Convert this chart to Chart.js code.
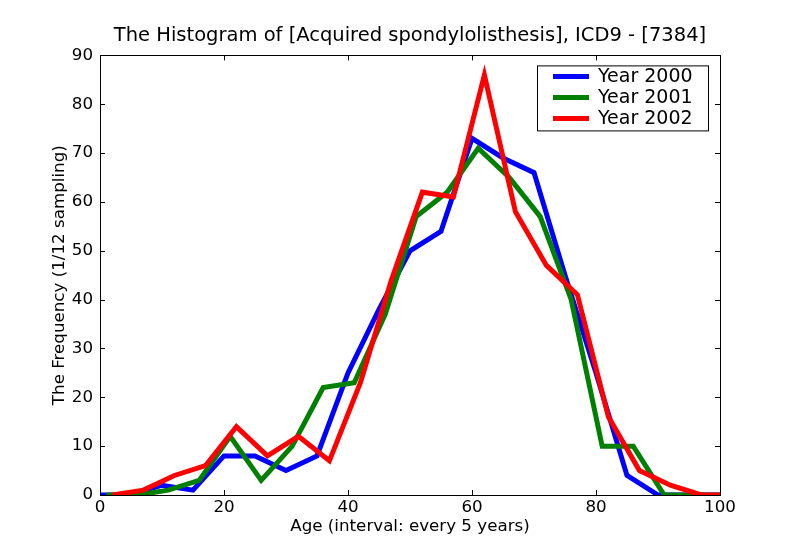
<!DOCTYPE html>
<html>
<head>
<meta charset="utf-8">
<script src="https://cdn.jsdelivr.net/npm/chart.js@4/dist/chart.umd.min.js"></script>
<style>
  body { margin: 0; background: #fff; }
  #wrap { width: 800px; height: 550px; }
</style>
</head>
<body>
<div id="wrap"><canvas id="histChart" width="800" height="550"></canvas></div>
<script>
// data
const ages2000 = [0, 5, 10, 15, 20, 25, 30, 35, 40, 45, 50, 55, 60, 65, 70, 75, 80, 85, 90, 95, 100];
const year2000 = [0, 0, 2, 1, 8, 8, 5, 8, 25, 38, 50, 54, 73, 69, 66, 45, 25, 4, 0, 0, 0];

const ages2001 = [1, 6, 11, 16, 21, 26, 31, 36, 41, 46, 51, 56, 61, 66, 71, 76, 81, 86, 91, 96, 100];
const year2001 = [0, 0, 1, 3, 12, 3, 10, 22, 23, 37, 57, 62, 71, 65, 57, 40, 10, 10, 0, 0, 0];

const ages2002 = [2, 7, 12, 17, 22, 27, 32, 37, 42, 47, 52, 57, 62, 67, 72, 77, 82, 87, 92, 97, 100];
const year2002 = [0, 1, 4, 6, 14, 8, 12, 7, 23, 44, 62, 61, 86, 58, 47, 41, 16, 5, 2, 0, 0];

const seriesLabels = ["Year 2000", "Year 2001", "Year 2002"];
const seriesColors = ["#0000ff", "#008000", "#ff0000"];

const FONT = "'DejaVu Sans', sans-serif";

function toPoints(xs, ys) {
  return xs.map((x, i) => ({ x: x, y: ys[i] }));
}

// frame + inward ticks on all four sides, like the old matplotlib look
const framePlugin = {
  id: "frame",
  afterDatasetsDraw(chart) {
    const ctx = chart.ctx;
    const area = chart.chartArea;
    const xs = chart.scales.x;
    const ys = chart.scales.y;
    const len = 5;
    ctx.save();
    ctx.strokeStyle = "#000";
    ctx.lineWidth = 1;
    ctx.beginPath();
    xs.ticks.forEach((t) => {
      const px = Math.round(xs.getPixelForValue(t.value)) + 0.5;
      ctx.moveTo(px, area.bottom);
      ctx.lineTo(px, area.bottom - len);
      ctx.moveTo(px, area.top);
      ctx.lineTo(px, area.top + len);
    });
    ys.ticks.forEach((t) => {
      const py = Math.round(ys.getPixelForValue(t.value)) + 0.5;
      ctx.moveTo(area.left, py);
      ctx.lineTo(area.left + len, py);
      ctx.moveTo(area.right, py);
      ctx.lineTo(area.right - len, py);
    });
    ctx.stroke();
    ctx.strokeRect(Math.round(area.left) + 0.5, Math.round(area.top) + 0.5,
      Math.round(area.right - area.left), Math.round(area.bottom - area.top));
    ctx.restore();
  }
};

// legend box in the upper right corner of the plot
const boxLegend = {
  id: "boxLegend",
  afterDraw(chart) {
    const ctx = chart.ctx;
    const area = chart.chartArea;
    const w = 171, h = 65;
    const x0 = area.right - 12 - w;
    const y0 = area.top + 10;
    ctx.save();
    ctx.fillStyle = "#fff";
    ctx.fillRect(x0, y0, w, h);
    ctx.strokeStyle = "#000";
    ctx.lineWidth = 1;
    ctx.strokeRect(x0 + 0.5, y0 + 0.5, w, h);
    ctx.font = "19px " + FONT;
    ctx.textBaseline = "middle";
    chart.data.datasets.forEach((ds, i) => {
      const cy = y0 + 11 + i * 21;
      ctx.strokeStyle = ds.borderColor;
      ctx.lineWidth = 5;
      ctx.beginPath();
      ctx.moveTo(x0 + 16, cy);
      ctx.lineTo(x0 + 52, cy);
      ctx.stroke();
      ctx.fillStyle = "#000";
      ctx.fillText(ds.label, x0 + 61, cy + 1);
    });
    ctx.restore();
  }
};

const ctx = document.getElementById("histChart").getContext("2d");

new Chart(ctx, {
  type: "line",
  data: {
    datasets: [
      { label: seriesLabels[0], data: toPoints(ages2000, year2000), borderColor: seriesColors[0], order: 3 },
      { label: seriesLabels[1], data: toPoints(ages2001, year2001), borderColor: seriesColors[1], order: 2 },
      { label: seriesLabels[2], data: toPoints(ages2002, year2002), borderColor: seriesColors[2], order: 1 }
    ].map((d) => Object.assign(d, {
      borderWidth: 5,
      pointRadius: 0,
      tension: 0,
      fill: false,
      clip: 0
    }))
  },
  options: {
    responsive: false,
    animation: false,
    layout: { padding: { top: 0, right: 80, bottom: 0, left: 0 } },
    plugins: {
      legend: { display: false },
      tooltip: { enabled: false },
      title: {
        display: true,
        fullSize: false,
        text: "The Histogram of [Acquired spondylolisthesis], ICD9 - [7384]",
        color: "#000",
        font: { family: FONT, size: 19.5, weight: "normal" },
        padding: { top: 24, bottom: 8 }
      }
    },
    scales: {
      x: {
        type: "linear",
        min: 0,
        max: 100,
        grid: { display: false, drawTicks: false },
        border: { display: false },
        ticks: { stepSize: 20, color: "#000", padding: 3, maxRotation: 0, font: { family: FONT, size: 16.7 } },
        title: {
          display: true,
          text: "Age (interval: every 5 years)",
          color: "#000",
          font: { family: FONT, size: 16.7 },
          padding: { top: 0, bottom: 13 }
        },
        afterFit(scale) { scale.height = 55; }
      },
      y: {
        min: 0,
        max: 90,
        grid: { display: false, drawTicks: false },
        border: { display: false },
        ticks: { stepSize: 10, color: "#000", padding: 7, font: { family: FONT, size: 16.7 } },
        title: {
          display: true,
          text: "The Frequency (1/12 sampling)",
          color: "#000",
          font: { family: FONT, size: 16.7 },
          padding: { top: 50, bottom: 0 }
        },
        afterFit(scale) { scale.width = 100; }
      }
    }
  },
  plugins: [framePlugin, boxLegend]
});
</script>
</body>
</html>
